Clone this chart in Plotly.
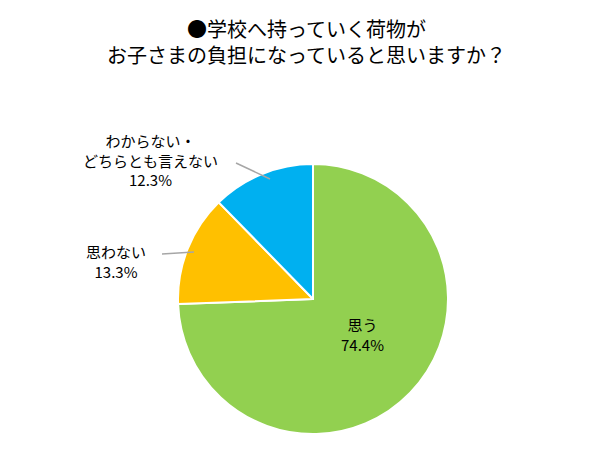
import plotly.graph_objects as go

labels = ["思う", "思わない", "わからない・どちらとも言えない"]
values = [74.4, 13.3, 12.3]
colors = ["#92D050", "#FFC000", "#00B0F0"]

W, H = 597, 449
cx, cy, r = 305, 291, 135


def px(x, y):
    return x / W, 1 - y / H


fig = go.Figure(go.Pie(
    labels=labels, values=values, sort=False, direction="clockwise", rotation=0,
    marker=dict(colors=colors, line=dict(color="white", width=2)),
    textinfo="none", hoverinfo="label+percent", showlegend=False,
    domain=dict(x=[(cx - r) / W, (cx + r) / W], y=[1 - (cy + r) / H, 1 - (cy - r) / H]),
))

font = dict(family="Noto Sans CJK JP", size=15, color="black")
ann = [
    (355, 326, "思う<br>74.4%"),
    (108, 253, "思わない<br>13.3%"),
    (142, 152, "わからない・<br>どちらとも言えない<br>12.3%"),
]
annotations = []
for x, y, t in ann:
    ax, ay = px(x, y)
    annotations.append(dict(x=ax, y=ay, xref="paper", yref="paper", text=t,
                            showarrow=False, font=font, align="center",
                            xanchor="center", yanchor="middle"))
annotations.append(dict(x=0.5, y=1 - 33 / H, xref="paper", yref="paper",
                        text="●学校へ持っていく荷物が<br>お子さまの負担になっていると思いますか？",
                        showarrow=False, font=dict(family="Noto Sans CJK JP", size=20, color="black"),
                        align="center", xanchor="center", yanchor="middle"))

shapes = []
for (x0, y0), (x1, y1) in [((154, 246), (186, 244)), ((228, 155), (262, 171))]:
    a0, b0 = px(x0, y0)
    a1, b1 = px(x1, y1)
    shapes.append(dict(type="line", xref="paper", yref="paper", x0=a0, y0=b0, x1=a1, y1=b1,
                       line=dict(color="#A6A6A6", width=1.5)))

fig.update_layout(width=W, height=H, margin=dict(l=0, r=0, t=0, b=0),
                  paper_bgcolor="white", annotations=annotations, shapes=shapes)
fig.write_html("out.html")
